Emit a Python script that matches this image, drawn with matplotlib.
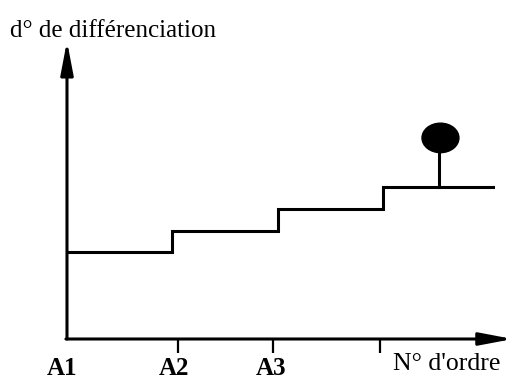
import matplotlib
matplotlib.use("Agg")
import matplotlib.pyplot as plt
from matplotlib.patches import Ellipse

# Data
step_x = [0, 1, 2, 3, 4.04]          # order positions (step edges + end)
step_levels = [4, 5, 6, 7]           # degree of differentiation per stage
tick_pos = [1.05, 1.95, 2.97]
tick_labels = ["A1", "A2", "A3"]
label_pos = [-0.047, 1.014, 1.93]
marker_x = 3.53
marker_stem_top = 8.63
marker_center_y = 9.28

plt.rcParams['font.family'] = ['Liberation Serif', 'DejaVu Serif']

fig = plt.figure(figsize=(5.14, 3.81), dpi=100)
ax = fig.add_axes([0, 0, 1, 1])
ax.set_xlim(-0.635, 4.237)
ax.set_ylim(-1.938, 15.644)
ax.axis('off')

lw = 2.2
# axes with arrows
ax.annotate('', xy=(0, 13.75), xytext=(0, 0), annotation_clip=False,
            arrowprops=dict(arrowstyle='-|>,head_length=2.0,head_width=0.38',
                            lw=lw, color='black', mutation_scale=10,
                            shrinkA=0, shrinkB=0))
ax.annotate('', xy=(4.225, 0), xytext=(-0.01, 0), annotation_clip=False,
            arrowprops=dict(arrowstyle='-|>,head_length=2.0,head_width=0.38',
                            lw=lw, color='black', mutation_scale=10,
                            shrinkA=0, shrinkB=0))

# ticks
for t in tick_pos:
    ax.plot([t, t], [0, -0.65], color='black', lw=1.6, solid_capstyle='butt')

# step function
xs = []
ys = []
for i, lev in enumerate(step_levels):
    xs += [step_x[i], step_x[i + 1]]
    ys += [lev, lev]
ax.plot(xs, ys, color='black', lw=lw, solid_joinstyle='miter')

# marker (stem + ellipse)
ax.plot([marker_x, marker_x], [step_levels[-1], marker_stem_top], color='black', lw=lw)
ax.add_patch(Ellipse((marker_x + 0.01, marker_center_y), 0.35, 1.36, color='black'))

# labels
for p, l in zip(label_pos, tick_labels):
    ax.text(p, -1.66, l, ha='center', va='baseline', fontsize=18, fontweight='bold')
ax.text(3.09, -1.43, "N° d'ordre", ha='left', va='baseline', fontsize=18.5)
ax.text(-0.54, 13.94, "d° de différenciation", ha='left', va='baseline', fontsize=18)

fig.savefig("out.png", dpi=100)
